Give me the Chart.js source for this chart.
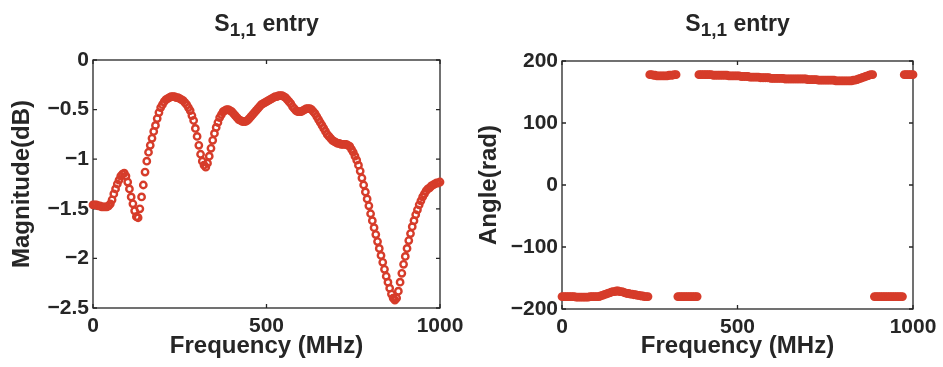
<!DOCTYPE html>
<html>
<head>
<meta charset="utf-8">
<script src="https://cdn.jsdelivr.net/npm/chart.js@4.4.1/dist/chart.umd.min.js"></script>
<style>
  body { margin: 0; background: #fff; width: 943px; height: 367px; overflow: hidden; position: relative;
         font-family: "Liberation Sans", Arial, Helvetica, sans-serif; }
  .box { position: absolute; top: 0; height: 367px; }
  .ttl { position: absolute; top: 12px; font-weight: bold; font-size: 23px; line-height: 23px;
         color: #262626; text-align: center; white-space: nowrap; }
  .ttl span { font-size: 19px; position: relative; top: 5px; }
</style>
</head>
<body>
<div class="box" style="left:0;width:471px"><canvas id="magChart" width="471" height="367"></canvas></div>
<div class="box" style="left:471px;width:472px"><canvas id="angChart" width="472" height="367"></canvas></div>
<div class="ttl" style="left:93px;width:347px">S<span>1,1</span> entry</div>
<div class="ttl" style="left:562px;width:351px">S<span>1,1</span> entry</div>

<script>
// frequency grid: 0..1000 MHz every 5 MHz
const freqStep = 5;
const freqTicks = [0, 500, 1000];
const magTicks = [0, -0.5, -1, -1.5, -2, -2.5];
const angTicks = [200, 100, 0, -100, -200];

// S11 magnitude (dB)
const magnitude = [
  -1.46,-1.46,-1.46,-1.47,-1.47,-1.48,-1.48,-1.48,-1.48,-1.47,
  -1.45,-1.41,-1.35,-1.30,-1.25,-1.21,-1.17,-1.15,-1.14,-1.17,
  -1.23,-1.30,-1.38,-1.45,-1.52,-1.58,-1.59,-1.50,-1.38,-1.26,
  -1.13,-1.02,-0.93,-0.86,-0.79,-0.72,-0.66,-0.59,-0.53,-0.48,
  -0.45,-0.42,-0.40,-0.39,-0.38,-0.37,-0.37,-0.37,-0.38,-0.38,
  -0.39,-0.40,-0.41,-0.43,-0.45,-0.48,-0.51,-0.56,-0.61,-0.69,
  -0.77,-0.86,-0.95,-1.02,-1.06,-1.08,-1.04,-0.97,-0.89,-0.81,
  -0.74,-0.68,-0.63,-0.58,-0.55,-0.52,-0.51,-0.50,-0.50,-0.51,
  -0.52,-0.54,-0.56,-0.58,-0.60,-0.61,-0.62,-0.62,-0.62,-0.61,
  -0.59,-0.57,-0.55,-0.53,-0.51,-0.49,-0.47,-0.45,-0.44,-0.43,
  -0.42,-0.41,-0.40,-0.39,-0.38,-0.37,-0.37,-0.36,-0.36,-0.36,
  -0.37,-0.38,-0.40,-0.42,-0.44,-0.47,-0.49,-0.51,-0.52,-0.52,
  -0.52,-0.51,-0.50,-0.49,-0.49,-0.49,-0.50,-0.52,-0.54,-0.57,
  -0.60,-0.63,-0.66,-0.69,-0.72,-0.75,-0.77,-0.79,-0.81,-0.82,
  -0.83,-0.84,-0.84,-0.85,-0.85,-0.85,-0.85,-0.86,-0.87,-0.90,
  -0.93,-0.97,-1.01,-1.06,-1.12,-1.19,-1.26,-1.33,-1.40,-1.47,
  -1.55,-1.62,-1.69,-1.76,-1.83,-1.90,-1.97,-2.04,-2.11,-2.18,
  -2.24,-2.30,-2.36,-2.40,-2.42,-2.40,-2.33,-2.24,-2.15,-2.06,
  -1.98,-1.90,-1.82,-1.75,-1.68,-1.62,-1.56,-1.51,-1.46,-1.42,
  -1.38,-1.35,-1.32,-1.30,-1.29,-1.27,-1.26,-1.25,-1.24,-1.24,
  -1.23
];

// S11 angle (wraps at +/-180)
const angle = [
  -180,-180,-180,-180,-180,-180,-180,-180,-181,-181,
  -181,-181,-181,-181,-181,-181,-180,-180,-180,-180,
  -180,-180,-179,-178,-177,-176,-175,-174,-173,-172,
  -172,-171,-171,-172,-172,-173,-174,-175,-175,-176,
  -176,-177,-177,-178,-178,-179,-179,-180,-180,-180,
  178,178,177,177,176,176,176,176,176,176,
  176,177,177,177,178,178,-180,-180,-180,-180,
  -180,-180,-180,-180,-180,-180,-180,-180,178,178,
  178,178,178,178,178,178,177,177,177,177,
  177,177,177,177,177,176,176,176,176,176,
  176,176,175,175,175,175,175,174,174,174,
  174,174,174,173,173,173,173,173,173,172,
  172,172,172,172,172,172,172,171,171,171,
  171,171,171,171,171,171,171,171,171,171,
  170,170,170,170,170,170,169,169,169,169,
  169,169,169,169,169,169,168,168,168,168,
  168,168,168,168,168,168,169,169,170,171,
  172,173,174,175,176,177,178,178,-180,-180,
  -180,-180,-180,-180,-180,-180,-180,-180,-180,-180,
  -180,-180,-180,-180,-180,178,178,178,178,178,
  178
];

const freqs = magnitude.map((_, i) => i * freqStep);

const markerColor = '#d63c2a';
const inkColor = '#262626';
const fontFamily = '"Liberation Sans", Arial, Helvetica, sans-serif';
const tickFont = { family: fontFamily, size: 21, weight: 'bold' };
const titleFont = { family: fontFamily, size: 24, weight: 'bold', lineHeight: 1 };

// matlab style: closed box + short inward ticks on all four sides
const boxPlugin = {
  id: 'box',
  beforeDatasetsDraw(chart) {
    const { ctx, chartArea: a, scales } = chart;
    const len = 4;
    ctx.save();
    ctx.strokeStyle = inkColor;
    ctx.lineWidth = 1.3;
    ctx.strokeRect(a.left, a.top, a.right - a.left, a.bottom - a.top);
    ctx.beginPath();
    scales.x.ticks.forEach(t => {
      const px = scales.x.getPixelForValue(t.value);
      ctx.moveTo(px, a.bottom); ctx.lineTo(px, a.bottom - len);
      ctx.moveTo(px, a.top); ctx.lineTo(px, a.top + len);
    });
    scales.y.ticks.forEach(t => {
      const py = scales.y.getPixelForValue(t.value);
      ctx.moveTo(a.left, py); ctx.lineTo(a.left + len, py);
      ctx.moveTo(a.right, py); ctx.lineTo(a.right - len, py);
    });
    ctx.stroke();
    ctx.restore();
  }
};

function minusSign(v) {
  return String(v).replace('-', '\u2212');
}

function makeChart(id, values, yTicks, yLabel, sizes) {
  const points = values.map((v, i) => ({ x: freqs[i], y: v }));
  return new Chart(document.getElementById(id), {
    type: 'scatter',
    data: {
      datasets: [{
        data: points,
        pointStyle: 'circle',
        pointRadius: 3.2,
        pointBorderWidth: 2.4,
        pointBackgroundColor: 'rgba(255,255,255,0)',
        pointBorderColor: markerColor,
        showLine: false,
        clip: false
      }]
    },
    options: {
      responsive: false,
      animation: false,
      events: [],
      layout: { padding: { top: sizes.top, right: sizes.right, left: 0, bottom: 0 } },
      plugins: { legend: { display: false }, tooltip: { enabled: false } },
      scales: {
        x: {
          type: 'linear',
          min: freqTicks[0],
          max: freqTicks[freqTicks.length - 1],
          afterBuildTicks: s => { s.ticks = freqTicks.map(v => ({ value: v })); },
          afterFit: s => { s.height = sizes.xHeight; },
          grid: { display: false, drawTicks: false },
          border: { display: false },
          ticks: { font: tickFont, color: inkColor, padding: 6, maxRotation: 0, callback: v => minusSign(v) },
          title: { display: true, text: 'Frequency (MHz)', font: titleFont, color: inkColor,
                   padding: { top: 0, bottom: 9 } }
        },
        y: {
          type: 'linear',
          min: Math.min(...yTicks),
          max: Math.max(...yTicks),
          afterBuildTicks: s => { s.ticks = yTicks.map(v => ({ value: v })); },
          afterFit: s => { s.width = sizes.yWidth; },
          grid: { display: false, drawTicks: false },
          border: { display: false },
          ticks: { font: tickFont, color: inkColor, padding: 4, callback: v => minusSign(v) },
          title: { display: true, text: yLabel, font: titleFont, color: inkColor,
                   padding: { top: sizes.yTitlePad, bottom: 0 } }
        }
      }
    },
    plugins: [boxPlugin]
  });
}

makeChart('magChart', magnitude, magTicks, 'Magnitude(dB)',
  { top: 60, right: 31, xHeight: 59, yWidth: 93, yTitlePad: 10 });
makeChart('angChart', angle, angTicks, 'Angle(rad)',
  { top: 61, right: 30, xHeight: 58, yWidth: 91, yTitlePad: 6 });
</script>
</body>
</html>
